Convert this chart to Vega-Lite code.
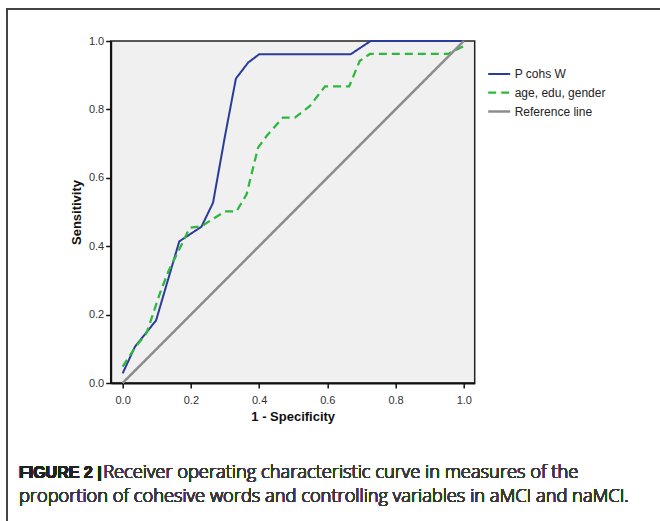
{
  "$schema": "https://vega.github.io/schema/vega-lite/v6.json",
  "width": 364,
  "height": 342,
  "autosize": {"type": "none"},
  "padding": {"left": 110.7, "top": 41, "right": 185.3, "bottom": 138},
  "background": "#ffffff",
  "config": {
    "view": {"stroke": "#222222", "strokeWidth": 1.5, "fill": "#f0f0f0"},
    "font": "Liberation Sans",
    "axis": {
      "labelFont": "Liberation Sans",
      "labelFontSize": 11,
      "labelColor": "#333333",
      "titleFont": "Liberation Sans",
      "titleFontSize": 13,
      "titleFontWeight": "bold",
      "titleColor": "#111111",
      "domainColor": "#111111",
      "domainWidth": 2,
      "tickColor": "#111111",
      "tickWidth": 1.5,
      "tickSize": 5,
      "grid": false
    }
  },
  "data": {
    "values": [
      {"series": "P cohs W", "x": 0.0, "y": 0.028},
      {"series": "P cohs W", "x": 0.036, "y": 0.106},
      {"series": "P cohs W", "x": 0.098, "y": 0.183},
      {"series": "P cohs W", "x": 0.166, "y": 0.414},
      {"series": "P cohs W", "x": 0.231, "y": 0.457},
      {"series": "P cohs W", "x": 0.265, "y": 0.527},
      {"series": "P cohs W", "x": 0.300, "y": 0.722},
      {"series": "P cohs W", "x": 0.332, "y": 0.89},
      {"series": "P cohs W", "x": 0.368, "y": 0.937},
      {"series": "P cohs W", "x": 0.400, "y": 0.961},
      {"series": "P cohs W", "x": 0.668, "y": 0.961},
      {"series": "P cohs W", "x": 0.727, "y": 1.0},
      {"series": "P cohs W", "x": 1.0, "y": 1.0},
      {"series": "age, edu, gender", "x": 0.0, "y": 0.048},
      {"series": "age, edu, gender", "x": 0.036, "y": 0.103},
      {"series": "age, edu, gender", "x": 0.07, "y": 0.146},
      {"series": "age, edu, gender", "x": 0.11, "y": 0.264},
      {"series": "age, edu, gender", "x": 0.134, "y": 0.326},
      {"series": "age, edu, gender", "x": 0.197, "y": 0.454},
      {"series": "age, edu, gender", "x": 0.231, "y": 0.458},
      {"series": "age, edu, gender", "x": 0.265, "y": 0.48},
      {"series": "age, edu, gender", "x": 0.300, "y": 0.502},
      {"series": "age, edu, gender", "x": 0.334, "y": 0.502},
      {"series": "age, edu, gender", "x": 0.363, "y": 0.551},
      {"series": "age, edu, gender", "x": 0.397, "y": 0.688},
      {"series": "age, edu, gender", "x": 0.422, "y": 0.722},
      {"series": "age, edu, gender", "x": 0.470, "y": 0.776},
      {"series": "age, edu, gender", "x": 0.505, "y": 0.776},
      {"series": "age, edu, gender", "x": 0.549, "y": 0.81},
      {"series": "age, edu, gender", "x": 0.593, "y": 0.867},
      {"series": "age, edu, gender", "x": 0.664, "y": 0.867},
      {"series": "age, edu, gender", "x": 0.695, "y": 0.942},
      {"series": "age, edu, gender", "x": 0.725, "y": 0.962},
      {"series": "age, edu, gender", "x": 0.954, "y": 0.962},
      {"series": "age, edu, gender", "x": 0.998, "y": 0.984},
      {"series": "Reference line", "x": 0.0, "y": 0.0},
      {"series": "Reference line", "x": 1.0, "y": 1.0}
    ]
  },
  "layer": [
    {
      "mark": {"type": "rect", "fill": null, "stroke": "#444444", "strokeWidth": 1, "clip": false},
      "encoding": {
        "x": {"datum": -0.339, "type": "quantitative", "scale": {"domain": [-0.035, 1.032], "nice": false, "zero": false}},
        "x2": {"datum": 3},
        "y": {"datum": 1.094, "type": "quantitative", "scale": {"domain": [0, 1], "nice": false}},
        "y2": {"datum": -2}
      }
    },
    {
      "mark": {"type": "line", "clip": false},
      "encoding": {
        "x": {
          "field": "x", "type": "quantitative",
          "scale": {"domain": [-0.035, 1.032], "nice": false, "zero": false},
          "axis": {"values": [0, 0.2, 0.4, 0.6, 0.8, 1.0], "format": ".1f", "labelPadding": 6, "title": "1 - Specificity", "titlePadding": 5}
        },
        "y": {
          "field": "y", "type": "quantitative",
          "scale": {"domain": [0, 1], "nice": false},
          "axis": {"values": [0, 0.2, 0.4, 0.6, 0.8, 1.0], "format": ".1f", "labelPadding": 2, "title": "Sensitivity", "titlePadding": 5}
        },
        "color": {
          "field": "series", "type": "nominal",
          "scale": {"domain": ["P cohs W", "age, edu, gender", "Reference line"], "range": ["#2a3c9a", "#2db83d", "#8c8c8c"]},
          "legend": {
            "orient": "none", "legendX": 376, "legendY": 21, "title": null,
            "symbolType": "stroke", "symbolSize": 484, "symbolStrokeWidth": 2,
            "labelFont": "Liberation Sans", "labelFontSize": 12, "labelColor": "#222222",
            "labelOffset": 3, "rowPadding": -4
          }
        },
        "strokeDash": {
          "field": "series", "type": "nominal",
          "scale": {"domain": ["P cohs W", "age, edu, gender", "Reference line"], "range": [[1, 0], [8, 5], [1, 0]]},
          "legend": null
        },
        "strokeWidth": {
          "field": "series", "type": "nominal",
          "scale": {"domain": ["P cohs W", "age, edu, gender", "Reference line"], "range": [2, 2.5, 0.7]},
          "legend": null
        }
      }
    },
    {
      "mark": {"type": "text", "align": "left", "baseline": "middle", "fontSize": 16, "fontWeight": "bold", "fill": "#222222", "stroke": null, "font": "Liberation Sans", "clip": false},
      "encoding": {
        "x": {"datum": -0.304, "type": "quantitative"},
        "y": {"datum": -0.264, "type": "quantitative"},
        "text": {"value": "FIGURE 2 |"}
      }
    },
    {
      "mark": {"type": "text", "align": "left", "baseline": "middle", "fontSize": 18.3, "fontWeight": 300, "fill": "#3a3a3a", "stroke": null, "font": "Open Sans", "clip": false},
      "encoding": {
        "x": {"datum": -0.057, "type": "quantitative"},
        "y": {"datum": -0.264, "type": "quantitative"},
        "text": {"value": "Receiver operating characteristic curve in measures of the"}
      }
    },
    {
      "mark": {"type": "text", "align": "left", "baseline": "middle", "fontSize": 18.3, "fontWeight": 300, "fill": "#3a3a3a", "stroke": null, "font": "Open Sans", "clip": false},
      "encoding": {
        "x": {"datum": -0.304, "type": "quantitative"},
        "y": {"datum": -0.334, "type": "quantitative"},
        "text": {"value": "proportion of cohesive words and controlling variables in aMCI and naMCI."}
      }
    }
  ]
}
